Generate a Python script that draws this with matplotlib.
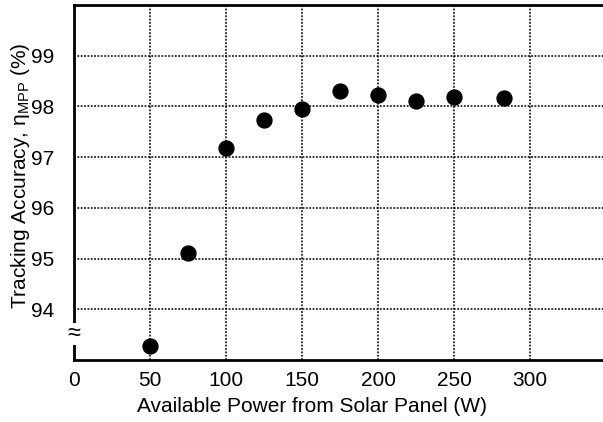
import matplotlib
matplotlib.use("Agg")
import matplotlib.pyplot as plt

# Data
power_w = [50, 75, 100, 125, 150, 175, 200, 225, 250, 283]
accuracy_pct = [93.27, 95.11, 97.19, 97.73, 97.94, 98.31, 98.22, 98.11, 98.19, 98.16]
x_ticks = [0, 50, 100, 150, 200, 250, 300]
y_ticks = [94, 95, 96, 97, 98, 99]

plt.rcParams['font.family'] = ['Liberation Sans', 'DejaVu Sans']
plt.rcParams['mathtext.fontset'] = 'custom'
plt.rcParams['mathtext.rm'] = 'Liberation Sans'
plt.rcParams['mathtext.it'] = 'Liberation Sans:italic'

fig = plt.figure(figsize=(6.03, 4.22), dpi=100)
ax = fig.add_axes([74 / 603, 1 - 360 / 422, 1 - 74 / 603, 355 / 422])

ax.scatter(power_w, accuracy_pct, s=115, color='black', zorder=5, clip_on=False)

ax.set_xlim(0, 348)
ax.set_ylim(93, 100)
ax.set_xticks(x_ticks)
ax.set_yticks(y_ticks)
ax.tick_params(length=0, labelsize=15, pad=8)
ax.tick_params(axis='y', pad=14)

ax.grid(True, color='black', linestyle=(0, (1.2, 1.0)), linewidth=1.1)
ax.set_axisbelow(True)

for side in ['left', 'bottom', 'top']:
    ax.spines[side].set_linewidth(2)
ax.spines['right'].set_visible(False)

ax.set_xlabel('Available Power from Solar Panel (W)', fontsize=15)
ax.set_ylabel(r'Tracking Accuracy, $\mathrm{η_{MPP}}$ (%)', fontsize=15)
ax.xaxis.set_label_coords(0.449, -0.105)
ax.yaxis.set_label_coords(-0.08, 0.52)

# axis break symbol on the y axis
ax.text(0, 93.52, '\u2248', transform=ax.get_yaxis_transform(), ha='center', va='center',
        fontsize=17, zorder=10, clip_on=False,
        bbox=dict(boxstyle='square,pad=0', fc='white', ec='none'))

fig.savefig('out.png', dpi=100)
